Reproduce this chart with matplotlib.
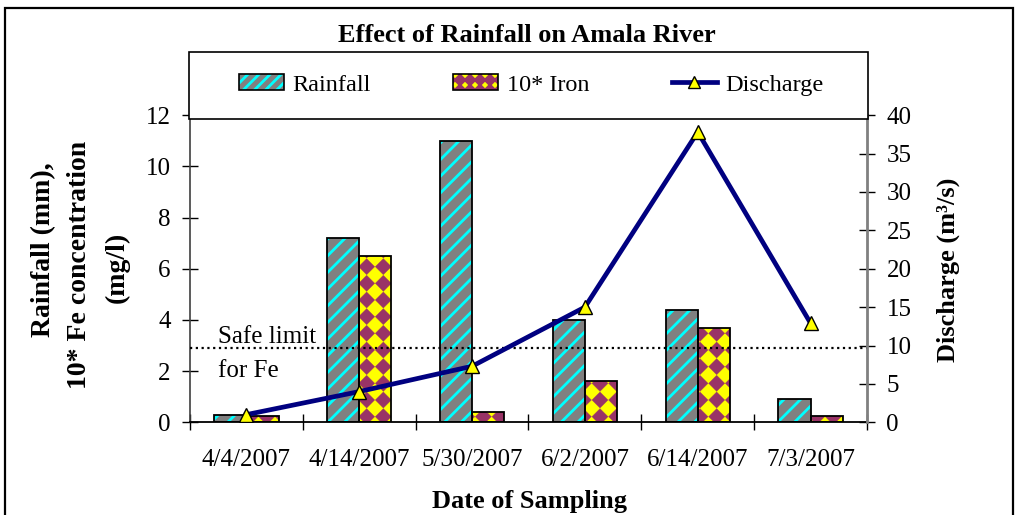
import numpy as np
import matplotlib
matplotlib.use('Agg')
import matplotlib.pyplot as plt
import matplotlib.hatch as mhatch
from matplotlib.path import Path
from matplotlib.patches import Patch, Rectangle
from matplotlib.lines import Line2D
import warnings
warnings.filterwarnings('ignore')

# ---------------- data ----------------
dates = ['4/4/2007', '4/14/2007', '5/30/2007', '6/2/2007', '6/14/2007', '7/3/2007']
rainfall = [0.3, 7.2, 11.0, 4.0, 4.4, 0.9]
iron10 = [0.25, 6.5, 0.4, 1.6, 3.7, 0.25]
discharge = [1.0, 4.0, 7.3, 15.0, 37.8, 12.9]
safe_limit = 2.9
left_ticks = [0, 2, 4, 6, 8, 10, 12]
right_ticks = [0, 5, 10, 15, 20, 25, 30, 35, 40]

plt.rcParams['font.family'] = ['Liberation Serif', 'DejaVu Serif']
plt.rcParams['hatch.linewidth'] = 2.0


# rotated checkerboard (diamond) hatch, registered as 'd'
class DiamondChecker(mhatch.HatchPatternBase):
    def __init__(self, hatch, density):
        self.n = 2 * hatch.count('d')
        self.num_vertices = 5 * (self.n + 1) ** 2 if self.n else 0

    def set_vertices_and_codes(self, vertices, codes):
        n = self.n
        P = 1.0 / n
        h = P / 2 * 0.97
        shape = np.array([[0, -h], [h, 0], [0, h], [-h, 0], [0, -h]])
        sc = np.array([Path.MOVETO, Path.LINETO, Path.LINETO, Path.LINETO,
                       Path.CLOSEPOLY], dtype=Path.code_type)
        vs, cs = [], []
        for i in range(n + 1):
            for j in range(n + 1):
                vs.append(shape + [i * P, j * P])
                cs.append(sc)
        vertices[:] = np.concatenate(vs)
        codes[:] = np.concatenate(cs)


mhatch._hatch_types.append(DiamondChecker)

W, H = 1018, 515
fig = plt.figure(figsize=(W / 100, H / 100), dpi=100)

ax_l, ax_r, ax_b, ax_t = 190, 867, 422.3, 115.1
ax = fig.add_axes([ax_l / W, 1 - ax_b / H, (ax_r - ax_l) / W, (ax_b - ax_t) / H])
ax2 = ax.twinx()

GRAY = '#808080'
CYAN = '#00FFFF'
YEL = '#FFFF00'
PURP = '#993366'
NAVY = '#000080'

x = np.arange(len(dates))
w = 0.285


def thin_hatch(bars, lw):
    for p in bars:
        if hasattr(p, 'set_hatch_linewidth'):
            p.set_hatch_linewidth(lw)


rb = ax.bar(x - w / 2, rainfall, w, color=GRAY, edgecolor=CYAN, hatch='//',
            linewidth=0, zorder=2)
ax.bar(x - w / 2, rainfall, w, fill=False, edgecolor='black', linewidth=1.3, zorder=3)
ib = ax.bar(x + w / 2, iron10, w, color=YEL, edgecolor=PURP, hatch='ddd',
            linewidth=0, zorder=2)
thin_hatch(ib, 0.2)
ax.bar(x + w / 2, iron10, w, fill=False, edgecolor='black', linewidth=1.3, zorder=3)

ax.axhline(safe_limit, color='black', lw=1.6, ls=(0, (1, 1.6)), zorder=4)

ax2.plot(x, discharge, color=NAVY, lw=3.4, marker='^', ms=10, mfc=YEL,
         mec='black', mew=1.0, zorder=5)

ax.set_xlim(-0.5, len(dates) - 0.5)
ax.set_ylim(0, 12)
ax2.set_ylim(0, 40)

ax.set_xticks(np.arange(-0.5, len(dates), 1.0))
ax.set_xticklabels([])
ax.set_xticks(x, minor=True)
ax.set_xticklabels(dates, minor=True)
ax.tick_params(axis='x', which='major', direction='inout', length=12, width=1.0)
ax.tick_params(axis='x', which='minor', length=0, pad=19, labelsize=18)

ax.set_yticks(left_ticks)
ax.tick_params(axis='y', direction='inout', length=12, width=1.0, pad=8, labelsize=18)
ax2.set_yticks(right_ticks)
ax2.tick_params(axis='y', direction='inout', length=12, width=1.0, pad=8, labelsize=18)

for s in ['top', 'right']:
    ax.spines[s].set_visible(False)
for s in ['top', 'left', 'bottom']:
    ax2.spines[s].set_visible(False)
ax.spines['left'].set_color('#404040')
ax.spines['left'].set_linewidth(1.2)
ax.spines['bottom'].set_color('black')
ax.spines['bottom'].set_linewidth(1.3)
ax2.spines['right'].set_color('#808080')
ax2.spines['right'].set_linewidth(2.0)

# legend box
fig.patches.append(Rectangle((189 / W, 1 - 119 / H), (868 - 189) / W, (119 - 52) / H,
                             transform=fig.transFigure, facecolor='white',
                             edgecolor='black', lw=1.2, zorder=5))
# outer border
fig.patches.append(Rectangle((5 / W, -0.1), (1013 - 5) / W, 1.1 - 8 / H,
                             transform=fig.transFigure, fill=False,
                             edgecolor='black', lw=1.6, zorder=5))

h_rain = (Patch(facecolor=GRAY, edgecolor=CYAN, hatch='///', lw=0),
          Patch(fill=False, edgecolor='black', lw=1.2))
p_iron = Patch(facecolor=YEL, edgecolor=PURP, hatch='ddddd', lw=0)
if hasattr(p_iron, 'set_hatch_linewidth'):
    p_iron.set_hatch_linewidth(0.2)
h_iron = (p_iron, Patch(fill=False, edgecolor='black', lw=1.2))
h_dis = Line2D([], [], color=NAVY, lw=3.4, marker='^', ms=9, mfc=YEL, mec='black', mew=1.0)
leg = fig.legend([h_rain, h_iron, h_dis], ['Rainfall', '10* Iron', 'Discharge'],
                 loc='center', bbox_to_anchor=(531 / W, 1 - 85 / H), ncol=3,
                 frameon=False, fontsize=17.5, handlelength=1.85, handleheight=0.6,
                 handletextpad=0.35, columnspacing=3.4)
leg.set_zorder(6)

# texts
fig.text(527 / W, 1 - 42 / H, 'Effect of Rainfall on Amala River', ha='center',
         va='baseline', fontsize=19, fontweight='bold')
fig.text(530 / W, 1 - 508 / H, 'Date of Sampling', ha='center', va='baseline',
         fontsize=19, fontweight='bold')
fig.text(44 / W, 1 - 250 / H, 'Rainfall (mm),', ha='center', va='center',
         rotation=90, fontsize=20, fontweight='bold')
fig.text(79 / W, 1 - 265 / H, '10* Fe concentration', ha='center', va='center',
         rotation=90, fontsize=20, fontweight='bold')
fig.text(117 / W, 1 - 267 / H, '(mg/l)', ha='center', va='center',
         rotation=90, fontsize=20, fontweight='bold')
fig.text(948 / W, 1 - 270 / H, 'Discharge (m\u00b3/s)', ha='center', va='center',
         rotation=90, fontsize=19, fontweight='bold')
fig.text(218 / W, 1 - 342.7 / H, 'Safe limit', ha='left', va='baseline', fontsize=18)
fig.text(218 / W, 1 - 376.7 / H, 'for Fe', ha='left', va='baseline', fontsize=18)

fig.savefig('out.png', dpi=100)
